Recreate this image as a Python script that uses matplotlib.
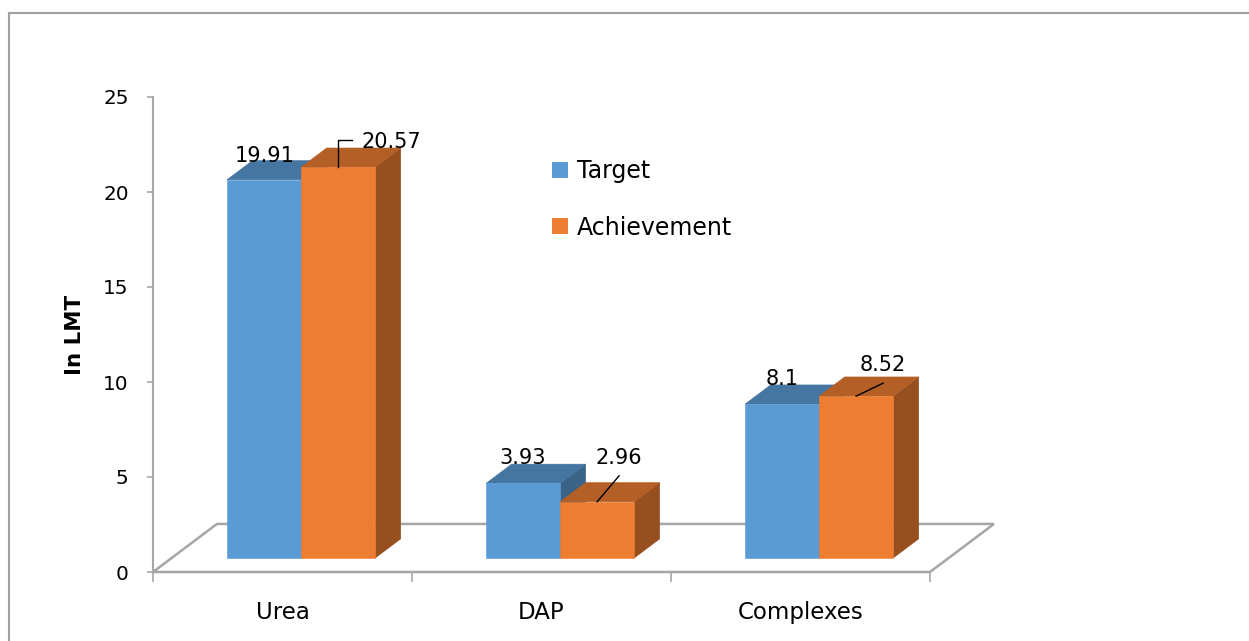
import matplotlib
matplotlib.use('agg')
import matplotlib.pyplot as plt
from matplotlib.patches import Polygon, Patch
from matplotlib.lines import Line2D
from matplotlib.transforms import Affine2D
import numpy as np

categories = ['Urea', 'DAP', 'Complexes']
series_names = ['Target', 'Achievement']
target = [19.91, 3.93, 8.1]
achievement = [20.57, 2.96, 8.52]
label_text = [['19.91', '3.93', '8.1'], ['20.57', '2.96', '8.52']]
y_ticks = [0, 5, 10, 15, 20, 25]

front_colors = ['#5B9BD5', '#ED7D31']
top_colors = ['#4576A2', '#B45F25']
side_colors = ['#3A6388', '#984F1F']
grey = '#A6A6A6'

# fake 3d: depth of the floor in data units, and where bars sit inside it
floor_dx, floor_dy = 0.247, 2.53
f_front, f_back = 0.29, 0.69
bar_w = 0.286

fig = plt.figure(figsize=(12.49, 6.41), dpi=100)
ax = fig.add_axes([153 / 1249, 69 / 641, 777 / 1249, 475 / 641])
ax.set_xlim(-0.5, 2.5)
ax.set_ylim(0, 25)
ax.patch.set_visible(False)
for s in ['top', 'right']:
    ax.spines[s].set_visible(False)
for s in ['left', 'bottom']:
    ax.spines[s].set_color(grey)
    ax.spines[s].set_linewidth(1.5)
ax.set_yticks(y_ticks)
ax.set_xticks(np.arange(len(categories) + 1) - 0.5)
ax.set_xticklabels([])
ax.tick_params(axis='y', length=4.5, width=1.2, color=grey, pad=13, labelsize=14.4)
ax.tick_params(axis='x', length=7, width=1.2, color=grey)

# floor
floor = Polygon([(-0.5, 0), (2.5, 0), (2.5 + floor_dx, floor_dy), (-0.5 + floor_dx, floor_dy)],
                closed=True, facecolor='white', edgecolor=grey, lw=1.8,
                clip_on=False, zorder=1)
ax.add_patch(floor)

bx, by = floor_dx * f_front, floor_dy * f_front
dx, dy = floor_dx * (f_back - f_front), floor_dy * (f_back - f_front)


def draw_bar(x0, h, i):
    """draw one box: side, top then front face; returns top front centre"""
    xl, xr = x0 + bx, x0 + bar_w + bx
    yb, yt = by, by + h
    side = [(xr, yb), (xr + dx, yb + dy), (xr + dx, yt + dy), (xr, yt)]
    top = [(xl, yt), (xr, yt), (xr + dx, yt + dy), (xl + dx, yt + dy)]
    front = [(xl, yb), (xr, yb), (xr, yt), (xl, yt)]
    for pts, c in [(side, side_colors[i]), (top, top_colors[i]), (front, front_colors[i])]:
        ax.add_patch(Polygon(pts, closed=True, facecolor=c, edgecolor=c, lw=0.4,
                             clip_on=False, zorder=2))
    return (xl + xr) / 2, yt


# label offsets in pixels from the top front centre (x, baseline y)
label_off = [[(1, 18), (0, 19), (0, 19)], [(53, 19), (22, 38), (27, 25)]]
leaders = [None, [[(0, 0), (0, 27), (14, 27)], [(0, 0), (22, 26)], [(0, 0), (27, 13)]]]

for k, c in enumerate(categories):
    for i, vals in enumerate([target, achievement]):
        x0 = k - bar_w + i * bar_w
        ax_x, ax_y = draw_bar(x0, vals[k], i)
        ox, oy = label_off[i][k]
        ax.annotate(label_text[i][k], xy=(ax_x, ax_y), xytext=(ox, oy),
                    textcoords='offset pixels', ha='center', va='baseline',
                    fontsize=15, zorder=5)
        if leaders[i] is not None:
            px, py = ax.transData.transform((ax_x, ax_y))
            pts = np.array(leaders[i][k], dtype=float)
            fig.add_artist(Line2D(pts[:, 0], pts[:, 1], color='black', lw=1.0,
                                  transform=Affine2D().translate(px, py)))
    ax.text(k, -0.099, c, transform=ax.get_xaxis_transform(), ha='center',
            va='baseline', fontsize=16.5)

fig.text(75 / 1249, 1 - 335 / 641, 'In LMT', rotation=90, fontweight='bold',
         fontsize=15.4, ha='center', va='center')

handles = [Patch(facecolor=c, edgecolor='none') for c in front_colors]
fig.legend(handles, series_names, loc='upper left',
           bbox_to_anchor=(552 / 1249, 1 - 159 / 641), frameon=False, fontsize=17,
           handlelength=0.68, handleheight=0.68, handletextpad=0.38,
           labelspacing=1.38, borderaxespad=0, borderpad=0)

# outer frame (top and left only visible)
fig.add_artist(Line2D([8.5 / 1249, 1], [1 - 12.7 / 641] * 2, transform=fig.transFigure,
                      color='#A0A0A0', lw=1.5))
fig.add_artist(Line2D([8.5 / 1249] * 2, [0, 1 - 12.7 / 641], transform=fig.transFigure,
                      color='#A0A0A0', lw=1.5))

fig.savefig('out.png', dpi=100)
